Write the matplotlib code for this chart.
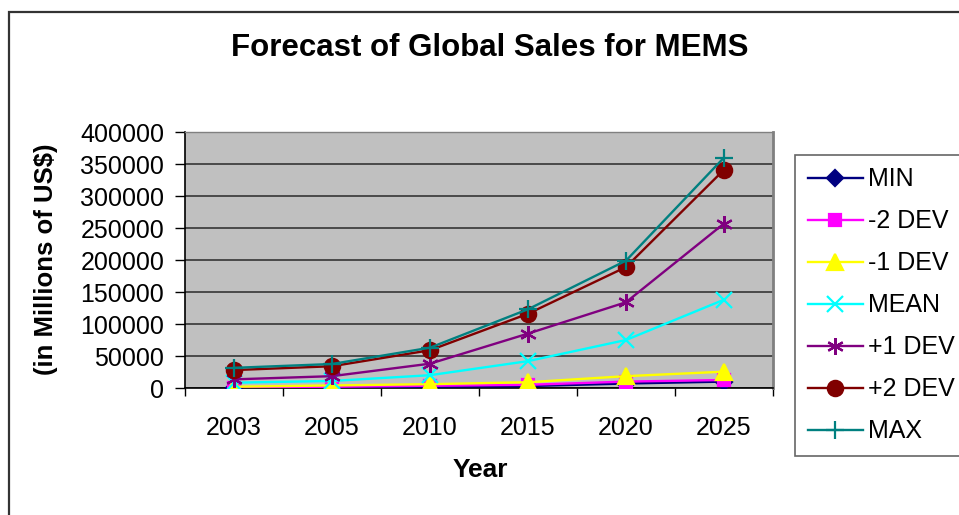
import numpy as np
import matplotlib.pyplot as plt
from matplotlib.patches import Rectangle

plt.rcParams['font.family'] = ['Liberation Sans', 'DejaVu Sans']

years = ['2003', '2005', '2010', '2015', '2020', '2025']

# Sales forecasts (millions of US$)
s_min = [0, 1000, 2000, 3000, 7000, 10000]
s_m2dev = [500, 2000, 3500, 5000, 10000, 12500]
s_m1dev = [2000, 4000, 6000, 9000, 18500, 25500]
s_mean = [8300, 11000, 20000, 42000, 75000, 138000]
s_p1dev = [13500, 18500, 38000, 85000, 134000, 257000]
s_p2dev = [28000, 34000, 59000, 116000, 189000, 341000]
s_max = [31500, 37500, 63000, 123000, 199000, 360000]

series = [
    ('MIN', s_min, '#000080', 'D', 8),
    ('-2 DEV', s_m2dev, '#FF00FF', 's', 9),
    ('-1 DEV', s_m1dev, '#FFFF00', '^', 11),
    ('MEAN', s_mean, '#00FFFF', 'x', 11),
    ('+1 DEV', s_p1dev, '#800080', (6, 2, 0), 12),
    ('+2 DEV', s_p2dev, '#800000', 'o', 11),
    ('MAX', s_max, '#008080', '+', 13),
]

fig = plt.figure(figsize=(9.59, 5.15), dpi=100)
ax = fig.add_axes([185/959, 1 - 388/515, 588/959, 256/515])
ax.set_facecolor('#C0C0C0')

x = np.arange(len(years))
for name, vals, col, mk, ms in series:
    ax.plot(x, vals, color=col, lw=1.7, marker=mk, markersize=ms,
            markeredgewidth=1.6, label=name, zorder=3)

ax.set_xlim(-0.5, len(years) - 0.5)
ax.set_ylim(0, 400000)
ax.set_yticks(np.arange(0, 400001, 50000))
ax.yaxis.grid(True, color='#404040', lw=1.3)
ax.set_axisbelow(True)

ax.set_xticks(x)
ax.set_xticklabels(years)
ax.set_xticks(np.arange(-0.5, len(years), 1), minor=True)
ax.tick_params(axis='x', which='major', length=0, pad=20, labelsize=18)
ax.tick_params(axis='x', which='minor', length=6, width=1, direction='out')
ax.tick_params(axis='y', length=7, width=1, direction='out', labelsize=18, pad=8)

for side in ['left', 'bottom']:
    ax.spines[side].set_color('black')
    ax.spines[side].set_linewidth(1.2)
ax.spines['top'].set_color('#808080')
ax.spines['right'].set_color('#808080')
ax.spines['right'].set_linewidth(2)
ax.spines['top'].set_linewidth(1)

fig.text(490/959, 1 - 48/515, 'Forecast of Global Sales for MEMS', ha='center',
         va='center', fontsize=22.5, fontweight='bold')
fig.text(480/959, 1 - 470/515, 'Year', ha='center', va='center',
         fontsize=19, fontweight='bold')
fig.text(46/959, 1 - 259/515, '(in Millions of US$)', ha='center', va='center',
         rotation=90, fontsize=18.5, fontweight='bold')

leg = fig.legend(loc='upper left', bbox_to_anchor=(795/959, 1 - 155/515),
                 fontsize=18, frameon=True, fancybox=False, handlelength=2.2,
                 handletextpad=0.2, labelspacing=0.72, borderpad=0.5,
                 borderaxespad=0)
leg.get_frame().set_edgecolor('#404040')
leg.get_frame().set_linewidth(1.2)

# chart border
fig.patches.append(Rectangle((9/959, -0.1), 2, 1.1 - 12/515, transform=fig.transFigure,
                             fill=False, edgecolor='#333333', lw=1.6))

fig.savefig('out.png', dpi=100)
